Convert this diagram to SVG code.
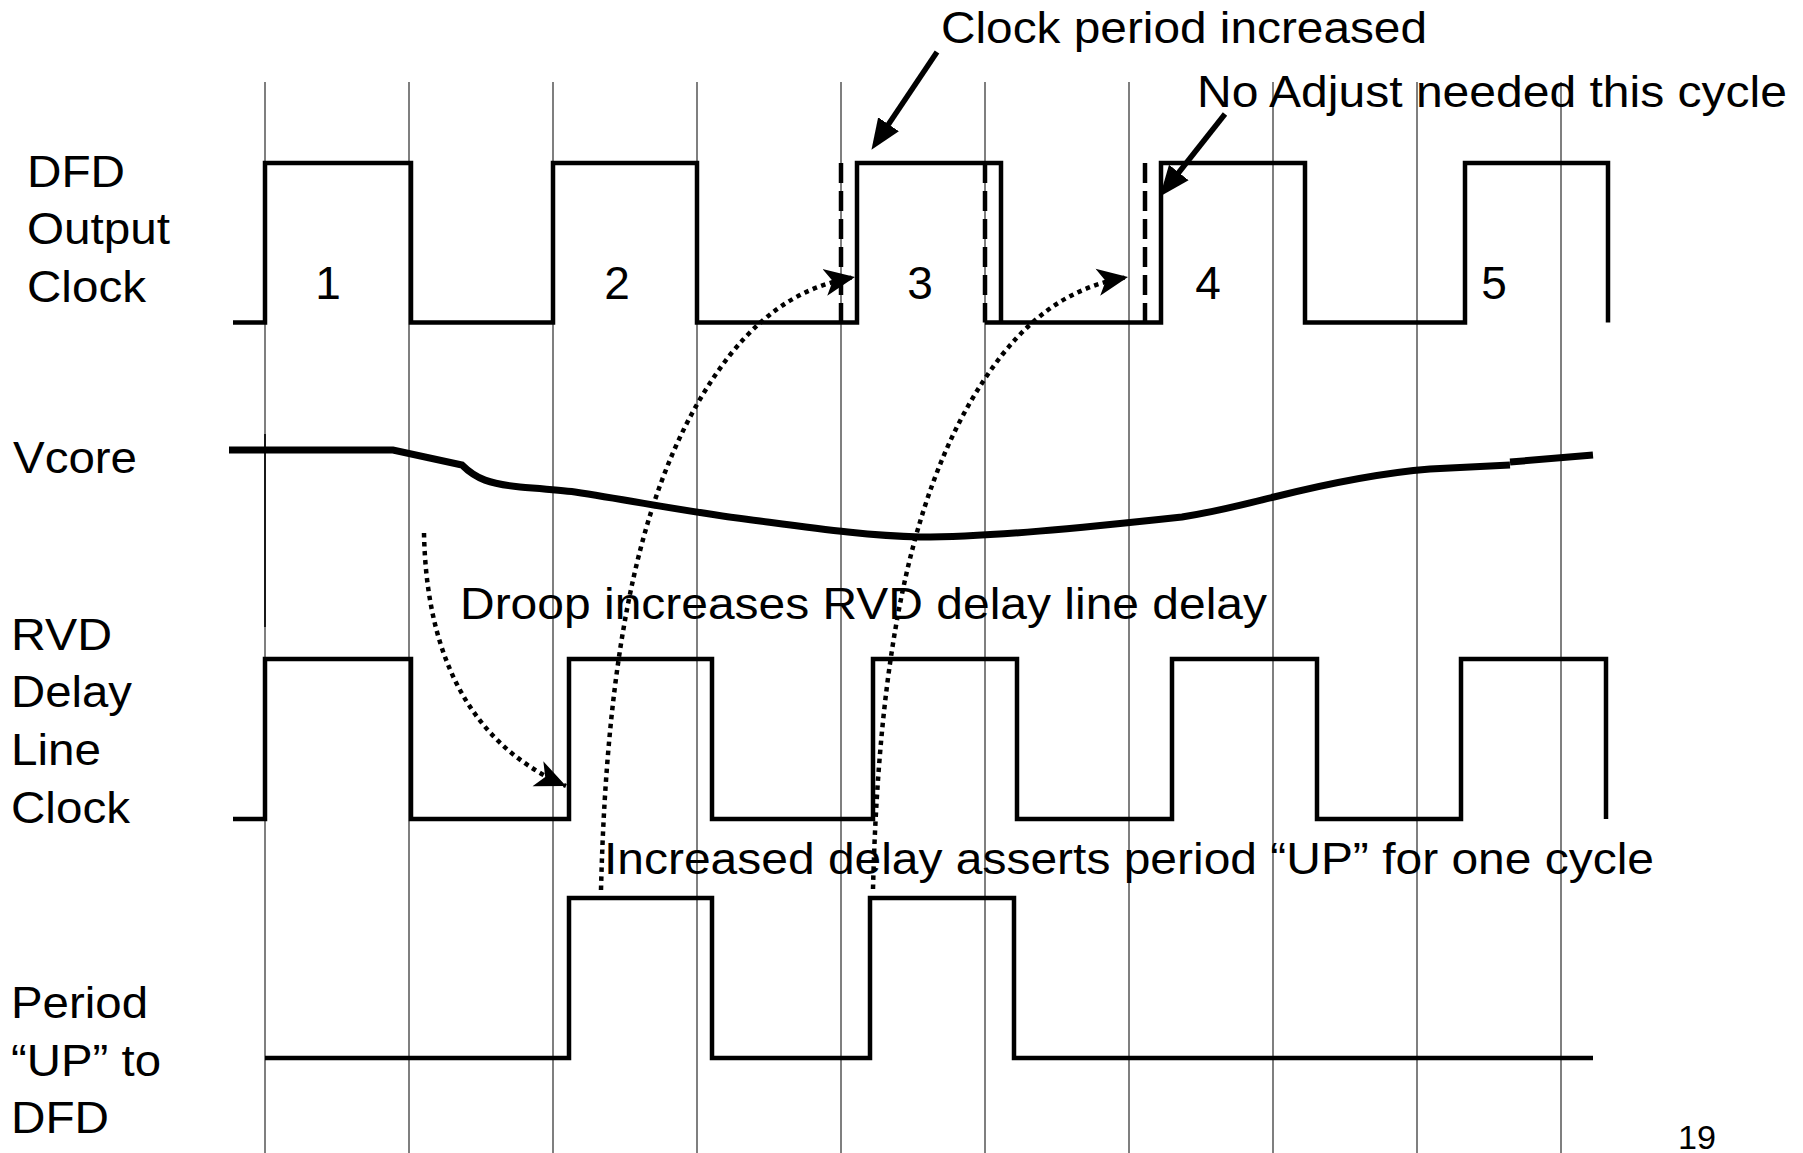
<svg xmlns="http://www.w3.org/2000/svg" width="1803" height="1153" viewBox="0 0 1803 1153">
<style>
text{font-family:"Liberation Sans",Arial,Helvetica,sans-serif;fill:#000}
.lbl{font-size:44px}
.num{font-size:46px;text-anchor:middle}
.grid{stroke:#555;stroke-width:1.5;fill:none}
.wave{stroke:#000;stroke-width:4.5;fill:none;stroke-linejoin:miter}
.vcore{stroke:#000;stroke-width:7;fill:none}
.dash{stroke:#000;stroke-width:4.5;stroke-dasharray:20 8;fill:none}
.dot{stroke:#000;stroke-width:4.5;stroke-dasharray:4.5 4.5;fill:none}
.solid{stroke:#000;stroke-width:5.5;fill:none}
</style>
<defs>
<marker id="tri" markerUnits="userSpaceOnUse" markerWidth="34" markerHeight="34" viewBox="0 -14 30 28" refX="4" refY="0" orient="auto">
<path d="M0,-11 L27,0 L0,11 Z" fill="#000"/>
</marker>
<marker id="stealth" markerUnits="userSpaceOnUse" markerWidth="34" markerHeight="34" viewBox="0 -14 30 28" refX="27" refY="0" orient="auto">
<path d="M0,-12 L27,0 L0,12 L7,0 Z" fill="#000"/>
</marker>
</defs>
<rect width="1803" height="1153" fill="#fff"/>
<g id="grid">
<path class="grid" d="M265,82V1153M409,82V1153M553,82V1153M697,82V1153M841,82V1153M985,82V1153M1129,82V1153M1273,82V1153M1417,82V1153M1561,82V1153"/>
<path d="M265,434V627" stroke="#000" stroke-width="1.6"/>
</g>
<g id="dfd-output-clock">
<text class="lbl" x="27" y="187" textLength="98" lengthAdjust="spacingAndGlyphs">DFD</text>
<text class="lbl" x="27" y="244" textLength="143" lengthAdjust="spacingAndGlyphs">Output</text>
<text class="lbl" x="27" y="302" textLength="119" lengthAdjust="spacingAndGlyphs">Clock</text>
<path class="wave" d="M233,322.5H265V163H411V322.5H553V163H697V322.5H857V163H1001V322.5M985,322.5H1161V163H1305V322.5H1465V163H1608V322.5"/>
<path class="dash" d="M841,163V322.5M985,163V322.5M1145,163V322.5"/>
<text class="num" x="328" y="299">1</text>
<text class="num" x="617" y="299">2</text>
<text class="num" x="920" y="299">3</text>
<text class="num" x="1208" y="299">4</text>
<text class="num" x="1494" y="299">5</text>
</g>
<g id="vcore">
<text class="lbl" x="13" y="473" textLength="124" lengthAdjust="spacingAndGlyphs">Vcore</text>
<path class="vcore" d="M229,450 L393,450 L462,465 C476,479 490,484 520,487 C545,489 560,490 575,492 C640,502 700,514 760,521 C820,529 870,536 920,537 C990,537 1080,528 1182,517 C1220,511 1240,505 1274,497 C1330,483 1380,473 1430,469 L1510,465 M1510,462 L1593,455"/>
</g>
<g id="rvd-delay-line-clock">
<text class="lbl" x="11" y="650" textLength="101" lengthAdjust="spacingAndGlyphs">RVD</text>
<text class="lbl" x="11" y="707" textLength="121" lengthAdjust="spacingAndGlyphs">Delay</text>
<text class="lbl" x="11" y="765" textLength="90" lengthAdjust="spacingAndGlyphs">Line</text>
<text class="lbl" x="11" y="823" textLength="119" lengthAdjust="spacingAndGlyphs">Clock</text>
<path class="wave" d="M233,819H265V659H411V819H569V659H712V819H873V659H1017V819H1172V659H1317V819H1461V659H1606V819"/>
</g>
<g id="period-up">
<text class="lbl" x="11" y="1018" textLength="137" lengthAdjust="spacingAndGlyphs">Period</text>
<text class="lbl" x="11" y="1076" textLength="150" lengthAdjust="spacingAndGlyphs">“UP” to</text>
<text class="lbl" x="11" y="1133" textLength="98" lengthAdjust="spacingAndGlyphs">DFD</text>
<path class="wave" d="M265,1058H569V898H712V1058H870V898H1014V1058H1593"/>
</g>
<g id="annotations">
<text class="lbl" x="941" y="43" textLength="486" lengthAdjust="spacingAndGlyphs">Clock period increased</text>
<text class="lbl" x="1197" y="107" textLength="590" lengthAdjust="spacingAndGlyphs">No Adjust needed this cycle</text>
<text class="lbl" x="460" y="619" textLength="807" lengthAdjust="spacingAndGlyphs">Droop increases RVD delay line delay</text>
<text class="lbl" x="604" y="874" textLength="1050" lengthAdjust="spacingAndGlyphs">Increased delay asserts period “UP” for one cycle</text>
<text x="1678" y="1149" font-size="33" textLength="38" lengthAdjust="spacingAndGlyphs">19</text>
</g>
<g id="connectors">
<path class="solid" d="M937,52 L886,128" marker-end="url(#tri)"/>
<path class="solid" d="M1225,114 L1176,176" marker-end="url(#tri)"/>
<path class="dot" d="M424,533 C426,640 460,740 566,786" marker-end="url(#stealth)"/>
<path class="dot" d="M601,890 C607,650 640,470 730,355 C770,305 810,285 855,277" marker-end="url(#stealth)"/>
<path class="dot" d="M873,889 C879,650 912,470 1002,355 C1042,305 1082,285 1128,277" marker-end="url(#stealth)"/>
</g>
</svg>
